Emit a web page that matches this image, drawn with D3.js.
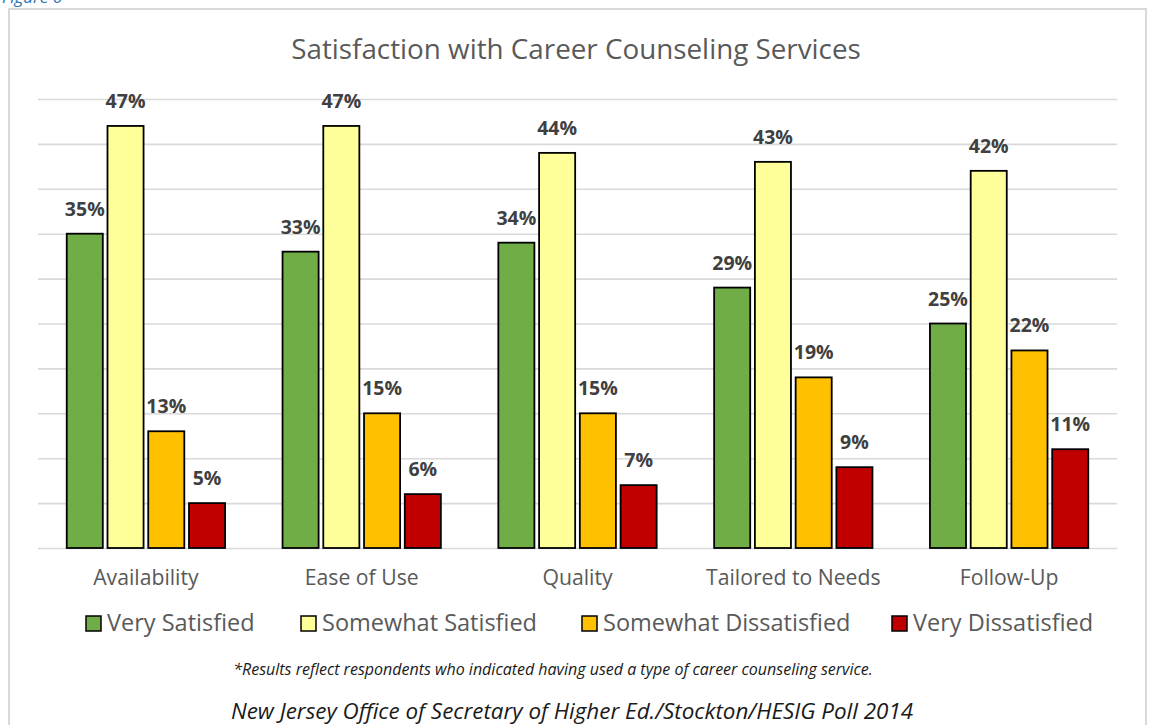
<!DOCTYPE html>
<html>
<head>
<meta charset="utf-8">
<script src="https://cdn.jsdelivr.net/npm/d3@7"></script>
<style>
  html, body { margin: 0; padding: 0; background: #fff; }
  svg { display: block; }
  text { font-family: "Open Sans", "Lato", sans-serif; }
</style>
</head>
<body>
<svg id="chart" width="1149" height="725"></svg>
<script>
// Survey categories and response shares (percent)
const categories = ["Availability", "Ease of Use", "Quality", "Tailored to Needs", "Follow-Up"];
const seriesNames = ["Very Satisfied", "Somewhat Satisfied", "Somewhat Dissatisfied", "Very Dissatisfied"];
const verySatisfied = [35, 33, 34, 29, 25];
const somewhatSatisfied = [47, 47, 44, 43, 42];
const somewhatDissatisfied = [13, 15, 15, 19, 22];
const veryDissatisfied = [5, 6, 7, 9, 11];
const seriesColors = ["#70ad47", "#ffff99", "#ffc000", "#c00000"];
const gridTicks = [0, 5, 10, 15, 20, 25, 30, 35, 40, 45, 50];

const seriesValues = [verySatisfied, somewhatSatisfied, somewhatDissatisfied, veryDissatisfied];
const rows = categories.map((c, i) => ({
  category: c,
  values: seriesNames.map((s, j) => ({ series: s, value: seriesValues[j][i], color: seriesColors[j] }))
}));

const svg = d3.select("#chart");

// Figure caption, running off the top edge of the page
svg.append("text")
  .attr("x", 2).attr("y", 3)
  .attr("font-size", 17).attr("font-style", "italic")
  .attr("fill", "#2e74b5")
  .text("Figure 6");

// Outer frame
svg.append("rect")
  .attr("x", 9).attr("y", 9)
  .attr("width", 1137).attr("height", 740)
  .attr("fill", "none").attr("stroke", "#d9d9d9").attr("stroke-width", 2);

const plot = { left: 38, right: 1117, top: 99, bottom: 548 };

const x0 = d3.scaleBand().domain(categories).range([plot.left, plot.right]).padding(0);
const groupW = 163;
const x1 = d3.scaleBand().domain(seriesNames)
  .range([(x0.bandwidth() - groupW) / 2, (x0.bandwidth() + groupW) / 2])
  .paddingInner(0.115).paddingOuter(0.0575);
const y = d3.scaleLinear().domain([0, 50]).range([plot.bottom, plot.top]);

// Title
svg.append("text")
  .attr("x", 576).attr("y", 59)
  .attr("text-anchor", "middle")
  .attr("font-size", 27.8).attr("fill", "#595959")
  .text("Satisfaction with Career Counseling Services");

// Horizontal gridlines
svg.append("g")
  .attr("transform", `translate(${plot.left},0)`)
  .call(d3.axisLeft(y).tickValues(gridTicks).tickSize(-(plot.right - plot.left)).tickFormat(""))
  .call(g => g.select(".domain").remove())
  .call(g => g.selectAll(".tick line").attr("stroke", "#d9d9d9").attr("stroke-width", 1.6));

// Bars
const groups = svg.append("g").selectAll("g")
  .data(rows).join("g")
  .attr("transform", d => `translate(${x0(d.category)},0)`);

groups.selectAll("rect")
  .data(d => d.values).join("rect")
  .attr("x", d => x1(d.series))
  .attr("y", d => y(d.value))
  .attr("width", x1.bandwidth())
  .attr("height", d => y(0) - y(d.value))
  .attr("fill", d => d.color)
  .attr("stroke", "#000").attr("stroke-width", 1.8);

// Value labels
groups.selectAll("text")
  .data(d => d.values).join("text")
  .attr("x", d => x1(d.series) + x1.bandwidth() / 2)
  .attr("y", d => y(d.value) - 18)
  .attr("text-anchor", "middle")
  .attr("font-size", 19.5).attr("font-weight", "bold")
  .attr("fill", "#404040")
  .text(d => d.value + "%");

// Category axis labels
svg.append("g")
  .attr("transform", `translate(0,${plot.bottom})`)
  .call(d3.axisBottom(x0).tickSize(0).tickPadding(0))
  .call(g => g.select(".domain").remove())
  .call(g => g.selectAll("text")
    .attr("dy", 0).attr("y", 37)
    .attr("font-size", 21.2).attr("fill", "#595959")
    .attr("font-family", "Open Sans, Lato, sans-serif"));

// Legend
const legendX = [86, 301, 582, 892];
const legend = svg.append("g").selectAll("g")
  .data(seriesNames).join("g")
  .attr("transform", (d, i) => `translate(${legendX[i]},616)`);
legend.append("rect")
  .attr("width", 15).attr("height", 15)
  .attr("fill", (d, i) => seriesColors[i])
  .attr("stroke", "#000").attr("stroke-width", 1.5);
legend.append("text")
  .attr("x", 21).attr("y", 15)
  .attr("font-size", 23.5).attr("fill", "#595959")
  .text(d => d);

// Footnote and source
svg.append("text")
  .attr("x", 553).attr("y", 675)
  .attr("text-anchor", "middle")
  .attr("font-size", 16).attr("font-style", "italic").attr("fill", "#1a1a1a")
  .text("*Results reflect respondents who indicated having used a type of career counseling service.");

svg.append("text")
  .attr("x", 572).attr("y", 719)
  .attr("text-anchor", "middle")
  .attr("font-size", 22.4).attr("font-style", "italic").attr("fill", "#1a1a1a")
  .text("New Jersey Office of Secretary of Higher Ed./Stockton/HESIG Poll 2014");
</script>
</body>
</html>
